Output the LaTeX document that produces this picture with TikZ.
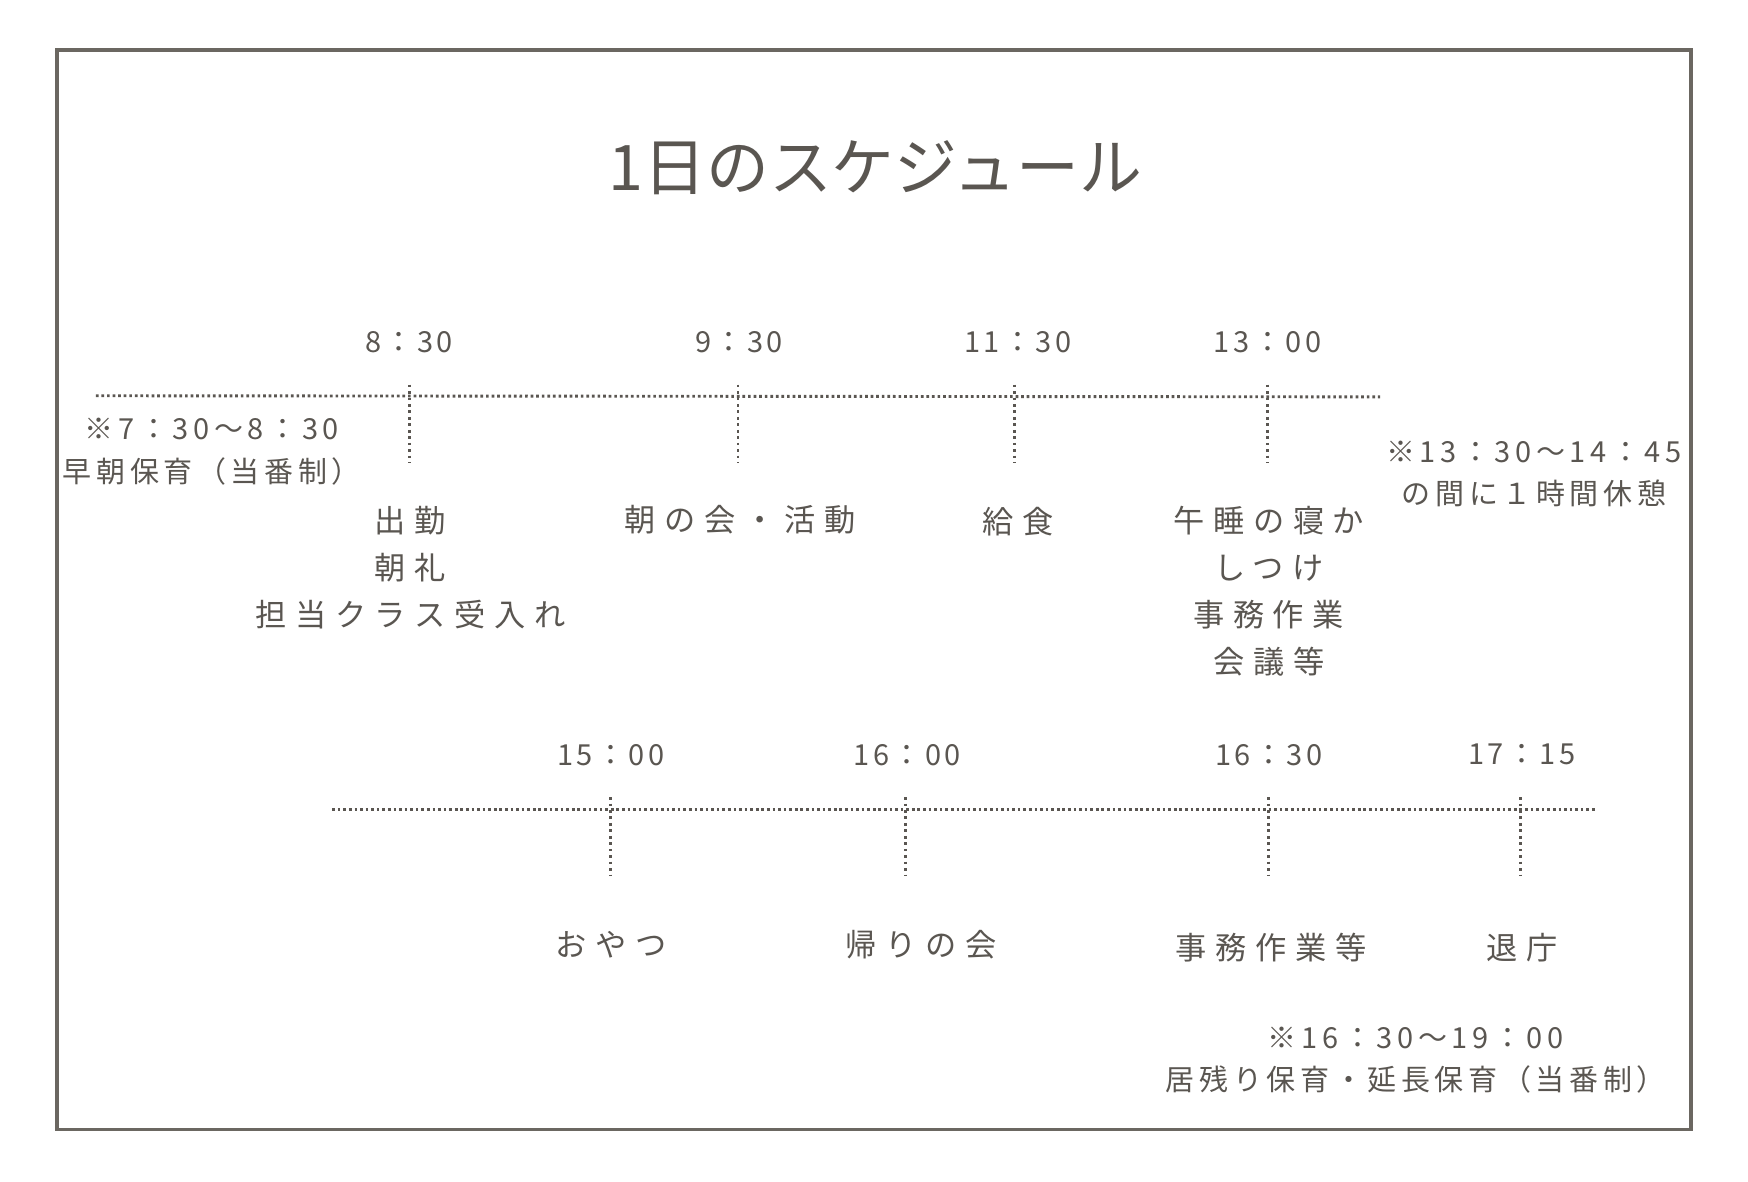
\documentclass[tikz,border=0pt]{standalone}
\usepackage{fontspec}
\setmainfont{Noto Sans CJK JP}
\newfontfamily\jpl[LetterSpace=28]{Noto Sans CJK JP}
\newfontfamily\jpn[LetterSpace=16]{Noto Sans CJK JP}
\newfontfamily\jpt[LetterSpace=12]{Noto Sans CJK JP}
\definecolor{ink}{HTML}{5A5651}
\definecolor{frame}{HTML}{6B6761}
\begin{document}
\begin{tikzpicture}[x=0.5pt,y=-0.5pt,
  every node/.style={inner sep=0pt, text=ink},
  lbl/.style={font=\jpl\fontsize{14}{21}\selectfont, align=center},
  note/.style={font=\jpn\fontsize{13}{19}\selectfont, align=center},
  tm/.style={font=\jpt\fontsize{13}{16}\selectfont},
  axis/.style={draw=ink, line width=1.3pt, dash pattern=on 1.2pt off 1.3pt},
  tick/.style={draw=ink, line width=1.3pt, dash pattern=on 1.2pt off 1.7pt}]
\useasboundingbox (0,0) rectangle (1568,1059.4);
\draw[draw=frame, line width=1.5pt] (51,45) rectangle (1517,1013);
\node (title) at (785,150) {\fontsize{28.2}{31}\selectfont 1日のスケジュール};
% row 1
\coordinate (a1s) at (86,355);
\coordinate (a1e) at (1238,356);
\draw[axis] (a1s) -- (a1e);
\foreach \n/\x in {A/367,B/662,C/910,D/1137}{
  \coordinate (t1\n) at (\x,345);
  \coordinate (b1\n) at (\x,415);
  \draw[tick] (t1\n) -- (b1\n);
}
\node[tm] (h830) at (367,307) {8：30};
\node[tm] (h930) at (663,307) {9：30};
\node[tm] (h1130) at (913,307) {11：30};
\node[tm] (h1300) at (1137,307) {13：00};
\node[note, anchor=north] (early) at (190,375) {※7：30〜8：30\\早朝保育（当番制）};
\node[lbl, anchor=north] (l830) at (368,454) {出勤\\朝礼\\担当クラス受入れ};
\node[lbl] (l930) at (664,466) {朝の会・活動};
\node[lbl] (l1130) at (913,468) {給食};
\node[lbl, anchor=north] (l1300) at (1138,454) {午睡の寝か\\しつけ\\事務作業\\会議等};
\node[note, anchor=north] (rest) at (1376,395) {※13：30〜14：45\\の間に１時間休憩};
% row 2
\coordinate (a2s) at (298,726);
\coordinate (a2e) at (1431,726);
\draw[axis] (a2s) -- (a2e);
\foreach \n/\x in {A/548,B/812,C/1138,D/1364}{
  \coordinate (t2\n) at (\x,715);
  \coordinate (b2\n) at (\x,785);
  \draw[tick] (t2\n) -- (b2\n);
}
\node[tm] (h1500) at (548,677) {15：00};
\node[tm] (h1600) at (814,677) {16：00};
\node[tm] (h1630) at (1138,677) {16：30};
\node[tm] (h1715) at (1365,677) {17：15};
\node[lbl] (l1500) at (548,847) {おやつ};
\node[lbl] (l1600) at (826,847) {帰りの会};
\node[lbl] (l1630) at (1140,850) {事務作業等};
\node[lbl] (l1715) at (1365,850) {退庁};
\node[note, anchor=north] (late) at (1270,921) {※16：30〜19：00\\居残り保育・延長保育（当番制）};
\end{tikzpicture}
\end{document}
